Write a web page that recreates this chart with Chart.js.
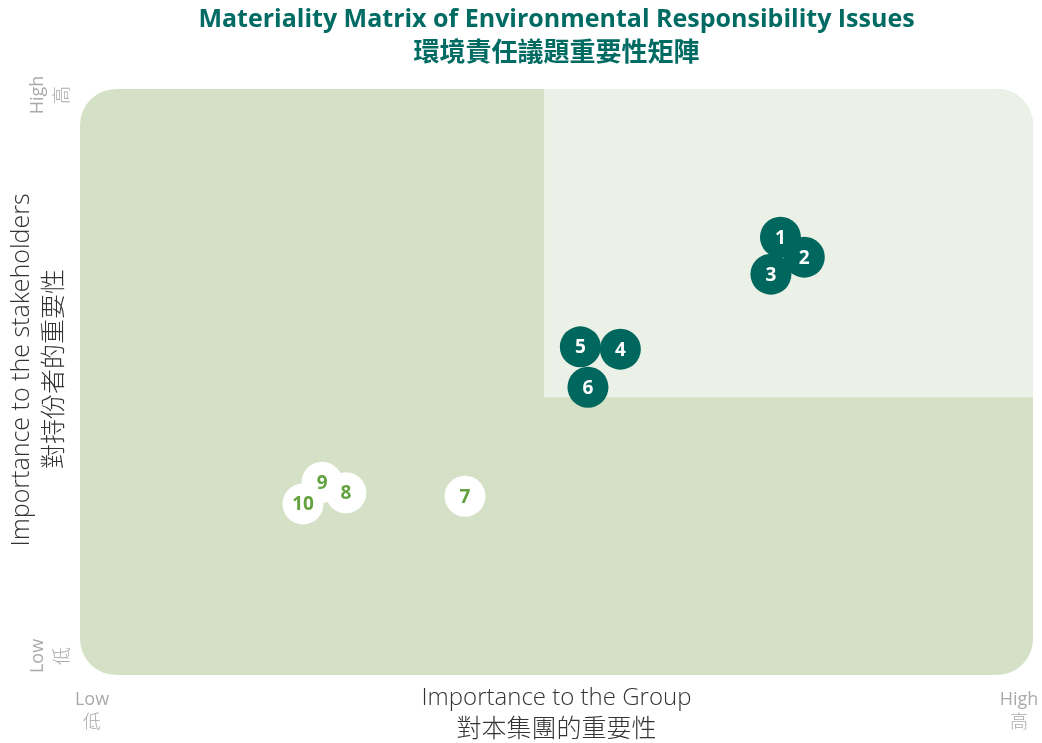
<!DOCTYPE html>
<html>
<head>
<meta charset="utf-8">
<script src="https://cdn.jsdelivr.net/npm/chart.js@4.4.1/dist/chart.umd.min.js"></script>
<style>
  html, body { margin: 0; padding: 0; background: #ffffff; }
  #wrap { width: 1042px; height: 743px; }
</style>
</head>
<body>
<div id="wrap"><canvas id="matrix" width="1042" height="743"></canvas></div>
<script>
// issue numbers and their scores (0-100)
const issueIds = [1, 2, 3, 4, 5, 6, 7, 8, 9, 10];
const groupScores = [73.5, 76.0, 72.5, 56.7, 52.5, 53.3, 40.4, 27.9, 25.4, 23.4];
const stakeholderScores = [74.7, 71.3, 68.4, 55.6, 56.0, 49.1, 30.5, 31.1, 32.9, 29.2];
// material issues (dark) vs. the rest (white)
const isMaterial = [true, true, true, true, true, true, false, false, false, false];

// quadrant split where the highlighted block starts
const groupSplit = 48.7;
const stakeholderSplit = 47.4;

const titleLines = ['Materiality Matrix of Environmental Responsibility Issues', '環境責任議題重要性矩陣'];
const xTitleLines = ['Importance to the Group', '對本集團的重要性'];
const yTitleLines = ['Importance to the stakeholders', '對持份者的重要性'];
const lowLabel = ['Low', '低'];
const highLabel = ['High', '高'];

const DARK = '#00675f';
const GREEN_TXT = '#62a23f';

const matrixBackground = {
  id: 'matrixBackground',
  beforeDatasetsDraw(chart) {
    const { ctx, chartArea: a, scales } = chart;
    const r = 36;
    ctx.save();
    ctx.beginPath();
    ctx.roundRect(a.left, a.top, a.right - a.left, a.bottom - a.top, r);
    ctx.fillStyle = '#d5e1c6';
    ctx.fill();
    ctx.clip();
    const sx = scales.x.getPixelForValue(groupSplit);
    const sy = scales.y.getPixelForValue(stakeholderSplit);
    ctx.fillStyle = '#ebf1e6';
    ctx.fillRect(sx, a.top, a.right - sx, sy - a.top);
    ctx.restore();
  }
};

function rotatedText(ctx, text, x, y, font, color) {
  ctx.save();
  ctx.translate(x, y);
  ctx.rotate(-Math.PI / 2);
  ctx.fillStyle = color;
  ctx.font = font;
  ctx.fillText(text, 0, 0);
  ctx.restore();
}

const matrixText = {
  id: 'matrixText',
  afterDatasetsDraw(chart) {
    const { ctx, chartArea: a } = chart;
    ctx.save();
    ctx.textAlign = 'center';
    ctx.textBaseline = 'middle';

    // issue numbers on the bubbles
    const meta = chart.getDatasetMeta(0);
    meta.data.forEach((pt, i) => {
      ctx.font = 'bold 19px "Open Sans"';
      ctx.fillStyle = isMaterial[i] ? '#ffffff' : GREEN_TXT;
      ctx.fillText(String(issueIds[i]), pt.x, pt.y + 1);
    });

    // title
    const cx = (a.left + a.right) / 2;
    ctx.fillStyle = '#006b63';
    ctx.font = 'bold 25px "Open Sans"';
    ctx.fillText(titleLines[0], cx, 20);
    ctx.font = 'bold 26px "Noto Sans CJK TC"';
    ctx.fillText(titleLines[1], cx, 51);

    // x axis title
    ctx.fillStyle = '#333333';
    ctx.font = '300 24px "Open Sans"';
    ctx.fillText(xTitleLines[0], cx, 698);
    ctx.font = '300 25px "Noto Sans CJK TC"';
    ctx.fillText(xTitleLines[1], cx, 727);

    // x low / high
    ctx.fillStyle = '#aaaaaa';
    ctx.font = '18px "Open Sans"';
    ctx.fillText(lowLabel[0], 92, 700);
    ctx.fillText(highLabel[0], 1019, 700);
    ctx.font = '300 18px "Noto Sans CJK TC"';
    ctx.fillText(lowLabel[1], 92, 721);
    ctx.fillText(highLabel[1], 1019, 721);

    // y axis title (rotated)
    rotatedText(ctx, yTitleLines[0], 22, 370, '300 25px "Open Sans"', '#333333');
    rotatedText(ctx, yTitleLines[1], 52, 369, '300 25px "Noto Sans CJK TC"', '#333333');

    // y high / low (rotated)
    [[highLabel, 95], [lowLabel, 656]].forEach(([lbl, y]) => {
      rotatedText(ctx, lbl[0], 38, y, '18px "Open Sans"', '#aaaaaa');
      rotatedText(ctx, lbl[1], 61, y, '300 18px "Noto Sans CJK TC"', '#aaaaaa');
    });
    ctx.restore();
  }
};

const points = issueIds.map((id, i) => ({ x: groupScores[i], y: stakeholderScores[i] }));

new Chart(document.getElementById('matrix'), {
  type: 'scatter',
  data: {
    datasets: [{
      data: points,
      pointRadius: 20.5,
      pointHoverRadius: 20.5,
      borderWidth: 0,
      backgroundColor: isMaterial.map(m => m ? DARK : '#ffffff'),
      clip: false
    }]
  },
  options: {
    responsive: false,
    animation: false,
    layout: { autoPadding: false, padding: { left: 80, right: 9, top: 89, bottom: 68 } },
    scales: {
      x: { type: 'linear', min: 0, max: 100, display: false },
      y: { type: 'linear', min: 0, max: 100, display: false }
    },
    plugins: {
      legend: { display: false },
      tooltip: { enabled: false }
    }
  },
  plugins: [matrixBackground, matrixText]
});
</script>
</body>
</html>
